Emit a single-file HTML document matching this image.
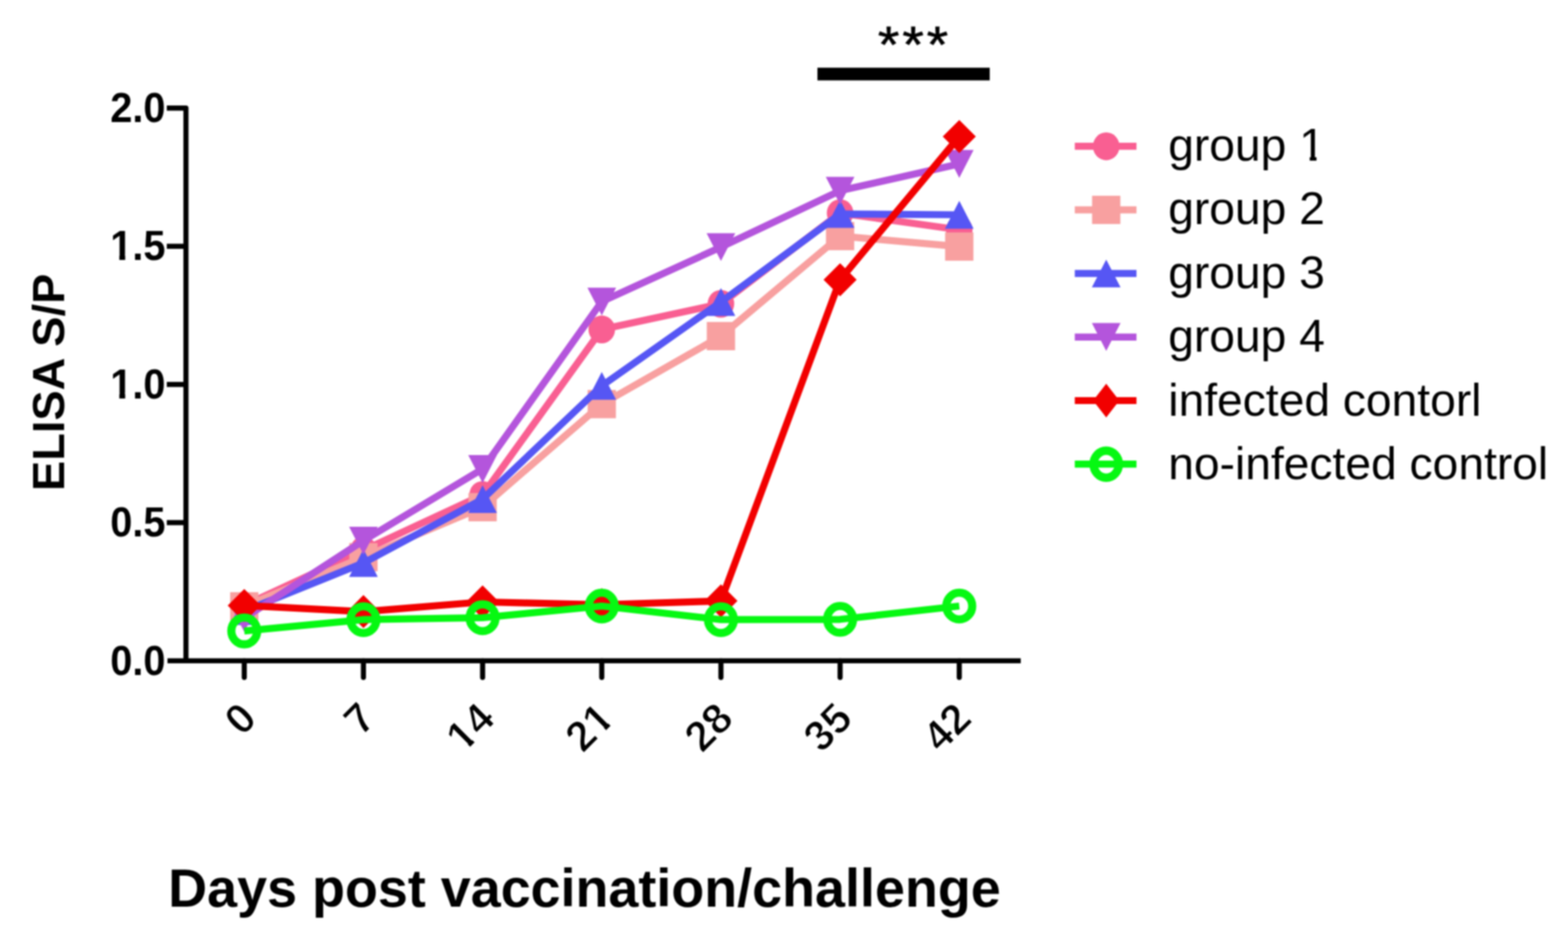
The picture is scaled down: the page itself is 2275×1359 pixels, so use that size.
<!DOCTYPE html>
<html><head><meta charset="utf-8"><style>
html,body{margin:0;padding:0;background:#fff;}
body{width:2275px;height:1359px;overflow:hidden;}
svg{display:block;filter:blur(1px);}
.b{font-family:"Liberation Sans",Arial,sans-serif;font-weight:bold;fill:#000;}
.r{font-family:"Liberation Sans",Arial,sans-serif;font-weight:normal;fill:#000;}
</style></head><body>
<svg width="2275" height="1359" viewBox="0 0 2275 1359">
<defs><clipPath id="f1"><path clip-rule="evenodd" d="M-284.79833984375,-122 H1915.20166015625 V122 H-284.79833984375 Z M-83.96,-8.23 H-70.86 V3.00 H-83.96 Z M-61.89,-8.23 H-49.57 V3.00 H-61.89 Z "/></clipPath><clipPath id="f2"><path clip-rule="evenodd" d="M-284.79833984375,-122 H1915.20166015625 V122 H-284.79833984375 Z M-83.96,-8.23 H-70.86 V3.00 H-83.96 Z M-61.89,-8.23 H-49.57 V3.00 H-61.89 Z "/></clipPath><clipPath id="f3"><path clip-rule="evenodd" d="M-268.40673828125,-123.0 H1931.59326171875 V123.0 H-268.40673828125 Z M-67.53,-8.28 H-54.35 V3.00 H-67.53 Z M-45.31,-8.28 H-32.92 V3.00 H-45.31 Z "/></clipPath><clipPath id="f4"><path clip-rule="evenodd" d="M-268.40673828125,-123.0 H1931.59326171875 V123.0 H-268.40673828125 Z M-33.33,-8.28 H-20.15 V3.00 H-33.33 Z M-11.11,-8.28 H1.29 V3.00 H-11.11 Z "/></clipPath><clipPath id="f5"><path clip-rule="evenodd" d="M-200,-134 H2000 V134 H-200 Z M191.20,-8.84 H205.31 V3.00 H191.20 Z M215.11,-8.84 H228.37 V3.00 H215.11 Z "/></clipPath></defs>
<rect width="2275" height="1359" fill="#fff"/>
<polyline points="354.4,878.2 527.3,798.1 700.2,717.9 873.1,477.8 1046.0,440.6 1218.9,309.1 1391.8,333.2" fill="none" stroke="#F95F92" stroke-width="10.2" stroke-linejoin="round" stroke-linecap="butt"/>
<ellipse cx="354.4" cy="878.2" rx="19.3" ry="20.2" fill="#F95F92"/>
<ellipse cx="527.3" cy="798.1" rx="19.3" ry="20.2" fill="#F95F92"/>
<ellipse cx="700.2" cy="717.9" rx="19.3" ry="20.2" fill="#F95F92"/>
<ellipse cx="873.1" cy="477.8" rx="19.3" ry="20.2" fill="#F95F92"/>
<ellipse cx="1046.0" cy="440.6" rx="19.3" ry="20.2" fill="#F95F92"/>
<ellipse cx="1218.9" cy="309.1" rx="19.3" ry="20.2" fill="#F95F92"/>
<ellipse cx="1391.8" cy="333.2" rx="19.3" ry="20.2" fill="#F95F92"/>
<polyline points="354.4,879.4 527.3,808.1 700.2,735.6 873.1,586.1 1046.0,487.5 1218.9,342.4 1391.8,357.6" fill="none" stroke="#F8A0A0" stroke-width="10.2" stroke-linejoin="round" stroke-linecap="butt"/>
<rect x="333.9" y="858.9" width="41.0" height="41.0" fill="#F8A0A0"/>
<rect x="506.8" y="787.6" width="41.0" height="41.0" fill="#F8A0A0"/>
<rect x="679.7" y="715.1" width="41.0" height="41.0" fill="#F8A0A0"/>
<rect x="852.6" y="565.6" width="41.0" height="41.0" fill="#F8A0A0"/>
<rect x="1025.5" y="467.0" width="41.0" height="41.0" fill="#F8A0A0"/>
<rect x="1198.4" y="321.9" width="41.0" height="41.0" fill="#F8A0A0"/>
<rect x="1371.3" y="337.1" width="41.0" height="41.0" fill="#F8A0A0"/>
<polyline points="354.4,886.3 527.3,816.5 700.2,723.9 873.1,559.6 1046.0,438.0 1218.9,310.3 1391.8,311.5" fill="none" stroke="#5656F4" stroke-width="10.2" stroke-linejoin="round" stroke-linecap="butt"/>
<polygon points="354.4,866.1 375.2,906.5 333.6,906.5" fill="#5656F4"/>
<polygon points="527.3,796.3 548.1,836.7 506.5,836.7" fill="#5656F4"/>
<polygon points="700.2,703.7 721.0,744.1 679.4,744.1" fill="#5656F4"/>
<polygon points="873.1,539.4 893.9,579.8 852.3,579.8" fill="#5656F4"/>
<polygon points="1046.0,417.8 1066.8,458.2 1025.2,458.2" fill="#5656F4"/>
<polygon points="1218.9,290.1 1239.7,330.5 1198.1,330.5" fill="#5656F4"/>
<polygon points="1391.8,291.3 1412.6,331.7 1371.0,331.7" fill="#5656F4"/>
<polyline points="354.4,896.3 527.3,784.1 700.2,680.2 873.1,437.4 1046.0,358.4 1218.9,276.6 1391.8,237.8" fill="none" stroke="#B455DC" stroke-width="10.2" stroke-linejoin="round" stroke-linecap="butt"/>
<polygon points="333.6,876.1 375.2,876.1 354.4,916.5" fill="#B455DC"/>
<polygon points="506.5,763.9 548.1,763.9 527.3,804.3" fill="#B455DC"/>
<polygon points="679.4,660.0 721.0,660.0 700.2,700.4" fill="#B455DC"/>
<polygon points="852.3,417.2 893.9,417.2 873.1,457.6" fill="#B455DC"/>
<polygon points="1025.2,338.2 1066.8,338.2 1046.0,378.6" fill="#B455DC"/>
<polygon points="1198.1,256.4 1239.7,256.4 1218.9,296.8" fill="#B455DC"/>
<polygon points="1371.0,217.6 1412.6,217.6 1391.8,258.0" fill="#B455DC"/>
<polyline points="354.4,878.2 527.3,887.1 700.2,873.0 873.1,877.0 1046.0,871.6 1218.9,405.7 1391.8,198.1" fill="none" stroke="#F20000" stroke-width="10.2" stroke-linejoin="round" stroke-linecap="butt"/>
<polygon points="354.4,854.2 378.4,878.2 354.4,902.2 330.4,878.2" fill="#F20000"/>
<polygon points="527.3,863.1 551.3,887.1 527.3,911.1 503.3,887.1" fill="#F20000"/>
<polygon points="700.2,849.0 724.2,873.0 700.2,897.0 676.2,873.0" fill="#F20000"/>
<polygon points="873.1,853.0 897.1,877.0 873.1,901.0 849.1,877.0" fill="#F20000"/>
<polygon points="1046.0,847.6 1070.0,871.6 1046.0,895.6 1022.0,871.6" fill="#F20000"/>
<polygon points="1218.9,381.7 1242.9,405.7 1218.9,429.7 1194.9,405.7" fill="#F20000"/>
<polygon points="1391.8,174.1 1415.8,198.1 1391.8,222.1 1367.8,198.1" fill="#F20000"/>
<polyline points="354.4,915.1 527.3,898.7 700.2,895.9 873.1,879.0 1046.0,898.7 1218.9,898.3 1391.8,879.0" fill="none" stroke="#06F812" stroke-width="10.2" stroke-linejoin="round" stroke-linecap="butt"/>
<ellipse cx="354.4" cy="915.1" rx="18.8" ry="19.4" fill="none" stroke="#06F812" stroke-width="11.8"/>
<ellipse cx="527.3" cy="898.7" rx="18.8" ry="19.4" fill="none" stroke="#06F812" stroke-width="11.8"/>
<ellipse cx="700.2" cy="895.9" rx="18.8" ry="19.4" fill="none" stroke="#06F812" stroke-width="11.8"/>
<ellipse cx="873.1" cy="879.0" rx="18.8" ry="19.4" fill="none" stroke="#06F812" stroke-width="11.8"/>
<ellipse cx="1046.0" cy="898.7" rx="18.8" ry="19.4" fill="none" stroke="#06F812" stroke-width="11.8"/>
<ellipse cx="1218.9" cy="898.3" rx="18.8" ry="19.4" fill="none" stroke="#06F812" stroke-width="11.8"/>
<ellipse cx="1391.8" cy="879.0" rx="18.8" ry="19.4" fill="none" stroke="#06F812" stroke-width="11.8"/>
<path d="M242,156.8 H269.8 V958.4 M243,958.4 H1481" stroke="#000" stroke-width="7.4" fill="none" stroke-linejoin="round"/>
<line x1="242" y1="758.0" x2="269.8" y2="758.0" stroke="#000" stroke-width="7.4"/>
<line x1="242" y1="557.6" x2="269.8" y2="557.6" stroke="#000" stroke-width="7.4"/>
<line x1="242" y1="357.2" x2="269.8" y2="357.2" stroke="#000" stroke-width="7.4"/>
<line x1="354.4" y1="958.4" x2="354.4" y2="982.6" stroke="#000" stroke-width="7.4" stroke-linecap="round"/>
<line x1="527.3" y1="958.4" x2="527.3" y2="982.6" stroke="#000" stroke-width="7.4" stroke-linecap="round"/>
<line x1="700.2" y1="958.4" x2="700.2" y2="982.6" stroke="#000" stroke-width="7.4" stroke-linecap="round"/>
<line x1="873.1" y1="958.4" x2="873.1" y2="982.6" stroke="#000" stroke-width="7.4" stroke-linecap="round"/>
<line x1="1046.0" y1="958.4" x2="1046.0" y2="982.6" stroke="#000" stroke-width="7.4" stroke-linecap="round"/>
<line x1="1218.9" y1="958.4" x2="1218.9" y2="982.6" stroke="#000" stroke-width="7.4" stroke-linecap="round"/>
<line x1="1391.8" y1="958.4" x2="1391.8" y2="982.6" stroke="#000" stroke-width="7.4" stroke-linecap="round"/>
<text transform="translate(240.1,978.6) scale(0.945,1)" x="-84.80" y="0" class="b" font-size="61">0.0</text>
<text transform="translate(240.1,778.2) scale(0.945,1)" x="-84.80" y="0" class="b" font-size="61">0.5</text>
<text transform="translate(240.1,577.8) scale(0.945,1)" x="-84.80" y="0" class="b" font-size="61" clip-path="url(#f1)">1.0</text>
<text transform="translate(240.1,377.4) scale(0.945,1)" x="-84.80" y="0" class="b" font-size="61" clip-path="url(#f2)">1.5</text>
<text transform="translate(240.1,177.0) scale(0.945,1)" x="-84.80" y="0" class="b" font-size="61">2.0</text>
<text transform="translate(375.4,1045.2) rotate(-45)" x="-34.20" y="0" class="b" font-size="61.5" stroke="#fff" stroke-width="1.4">0</text>
<text transform="translate(548.3,1045.2) rotate(-45)" x="-34.20" y="0" class="b" font-size="61.5" stroke="#fff" stroke-width="1.4">7</text>
<text transform="translate(721.2,1045.2) rotate(-45)" x="-68.41" y="0" class="b" font-size="61.5" stroke="#fff" stroke-width="1.4" clip-path="url(#f3)">14</text>
<text transform="translate(894.1,1045.2) rotate(-45)" x="-68.41" y="0" class="b" font-size="61.5" stroke="#fff" stroke-width="1.4" clip-path="url(#f4)">21</text>
<text transform="translate(1067.0,1045.2) rotate(-45)" x="-68.41" y="0" class="b" font-size="61.5" stroke="#fff" stroke-width="1.4">28</text>
<text transform="translate(1239.9,1045.2) rotate(-45)" x="-68.41" y="0" class="b" font-size="61.5" stroke="#fff" stroke-width="1.4">35</text>
<text transform="translate(1412.8,1045.2) rotate(-45)" x="-68.41" y="0" class="b" font-size="61.5" stroke="#fff" stroke-width="1.4">42</text>
<text transform="translate(92.5,554.6) rotate(-90)" text-anchor="middle" class="b" font-size="65.7">ELISA S/P</text>
<text x="244" y="1314.5" class="b" font-size="77.5" textLength="1208" lengthAdjust="spacingAndGlyphs">Days post vaccination/challenge</text>
<rect x="1186" y="98.2" width="250" height="18.4" fill="#000"/>
<text transform="translate(1273.7,89.8) scale(1,0.92)" x="0" y="0" class="r" font-size="80" letter-spacing="4.3" stroke="#000" stroke-width="0.9">***</text>
<line x1="1559.4" y1="212.2" x2="1648.9" y2="212.2" stroke="#F95F92" stroke-width="10.2"/>
<ellipse cx="1605.0" cy="212.2" rx="19.3" ry="20.2" fill="#F95F92"/>
<text transform="translate(1695,233.0)" x="0" y="0" class="r" font-size="67" clip-path="url(#f5)">group 1</text>
<line x1="1559.4" y1="304.4" x2="1648.9" y2="304.4" stroke="#F8A0A0" stroke-width="10.2"/>
<rect x="1584.5" y="283.9" width="41.0" height="41.0" fill="#F8A0A0"/>
<text transform="translate(1695,325.4)" x="0" y="0" class="r" font-size="67">group 2</text>
<line x1="1559.4" y1="396.6" x2="1648.9" y2="396.6" stroke="#5656F4" stroke-width="10.2"/>
<polygon points="1605.0,376.4 1625.8,416.8 1584.2,416.8" fill="#5656F4"/>
<text transform="translate(1695,417.8)" x="0" y="0" class="r" font-size="67">group 3</text>
<line x1="1559.4" y1="488.8" x2="1648.9" y2="488.8" stroke="#B455DC" stroke-width="10.2"/>
<polygon points="1584.2,468.6 1625.8,468.6 1605.0,509.0" fill="#B455DC"/>
<text transform="translate(1695,510.2)" x="0" y="0" class="r" font-size="67">group 4</text>
<line x1="1559.4" y1="581.0" x2="1648.9" y2="581.0" stroke="#F20000" stroke-width="10.2"/>
<polygon points="1605.0,556.6 1624.0,581.0 1605.0,605.4 1586.0,581.0" fill="#F20000"/>
<text transform="translate(1695,602.6)" x="0" y="0" class="r" font-size="67">infected contorl</text>
<line x1="1559.4" y1="673.2" x2="1648.9" y2="673.2" stroke="#06F812" stroke-width="10.2"/>
<ellipse cx="1605.0" cy="673.2" rx="18.3" ry="19.6" fill="none" stroke="#06F812" stroke-width="12.2"/>
<text transform="translate(1695,695.0)" x="0" y="0" class="r" font-size="67">no-infected control</text>
</svg>
</body></html>
